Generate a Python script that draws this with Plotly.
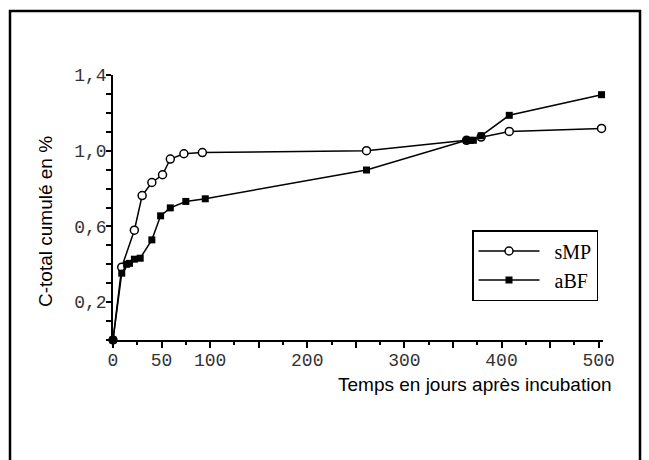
import plotly.graph_objects as go

# Data
smp_days = [0, 9, 22, 30, 40, 51, 59, 73, 92, 261, 364, 379, 408, 503]
smp_vals = [0, 0.385, 0.58, 0.763, 0.832, 0.873, 0.956, 0.984, 0.99, 1.0, 1.055, 1.072, 1.102, 1.118]

abf_days = [0, 9, 14, 17, 22, 28, 40, 49, 59, 75, 95, 261, 364, 368, 371, 379, 408, 503]
abf_vals = [0, 0.353, 0.40, 0.405, 0.427, 0.432, 0.529, 0.656, 0.698, 0.732, 0.746, 0.898,
            1.055, 1.055, 1.055, 1.079, 1.187, 1.296]

x_tickvals = [0, 50, 100, 150, 200, 250, 300, 350, 400, 450, 500]
x_ticktext = ["0", "50", "100", "", "200", "", "300", "", "400", "", "500"]
y_tickvals = [0, 0.1, 0.2, 0.3, 0.4, 0.5, 0.6, 0.7, 0.8, 0.9, 1.0, 1.1, 1.2, 1.3, 1.4]
y_ticktext = ["", "", "0,2", "", "", "", "0,6", "", "", "", "1,0", "", "", "", "1,4"]

fig = go.Figure()
fig.add_trace(go.Scatter(
    x=smp_days, y=smp_vals, name="\u2002sMP", mode="lines+markers",
    line=dict(color="black", width=1.5),
    marker=dict(symbol="circle", size=8, color="white", line=dict(color="black", width=1.5)),
    cliponaxis=False,
))
fig.add_trace(go.Scatter(
    x=abf_days, y=abf_vals, name="\u2002aBF", mode="lines+markers",
    line=dict(color="black", width=1.5),
    marker=dict(symbol="square", size=7, color="black", line=dict(color="black", width=0)),
    cliponaxis=False,
))

W, H = 649, 460
L, R, T, B = 113, 46, 75, 120
pw, ph = W - L - R, H - T - B

def px(xp):
    return (xp - L) / pw

def py(yp):
    return (H - B - yp) / ph

fig.update_layout(
    width=W, height=H,
    margin=dict(l=L, r=R, t=T, b=B, pad=0),
    paper_bgcolor="white", plot_bgcolor="white",
    showlegend=True,
    legend=dict(
        x=px(472), y=py(230), xanchor="left", yanchor="top",
        bordercolor="black", borderwidth=1.5, bgcolor="white",
        font=dict(family="Liberation Serif", size=20, color="black"),
        itemwidth=61, tracegroupgap=0,
    ),
    xaxis=dict(
        range=[0, 504.5], showgrid=False, zeroline=False,
        showline=True, linecolor="black", linewidth=1.5,
        tickmode="array", tickvals=x_tickvals, ticktext=x_ticktext,
        ticks="outside", ticklen=6, tickwidth=1.5, tickcolor="black",
        ticklabelstandoff=-3,
        tickfont=dict(family="Liberation Mono", size=18, color="#333"),
        minor=dict(dtick=25, tick0=0, ticks="outside", ticklen=3, tickwidth=1.5, tickcolor="black"),
    ),
    yaxis=dict(
        range=[0, 1.4], showgrid=False, zeroline=False,
        showline=True, linecolor="black", linewidth=1.5,
        tickmode="array", tickvals=y_tickvals, ticktext=y_ticktext,
        ticks="outside", ticklen=5, tickwidth=1.5, tickcolor="black",
        ticklabelstandoff=-4,
        tickfont=dict(family="Liberation Mono", size=18, color="#333"),
    ),
    annotations=[
        dict(text="C-total cumulé en %", xref="paper", yref="paper",
             x=px(45), y=py(222), xanchor="center", yanchor="middle",
             textangle=-90, showarrow=False,
             font=dict(family="Liberation Sans", size=19, color="black")),
        dict(text="Temps en jours après incubation", xref="paper", yref="paper",
             x=px(614), y=py(384), xanchor="right", yanchor="middle",
             showarrow=False,
             font=dict(family="Liberation Sans", size=19, color="black")),
    ],
    shapes=[
        dict(type="rect", xref="paper", yref="paper",
             x0=px(10), x1=px(640), y0=py(480), y1=py(11),
             line=dict(color="black", width=2.5), fillcolor="rgba(0,0,0,0)", layer="below"),
    ],
)

fig.write_html(
    "out.html",
    config={"displayModeBar": False},
    post_script="document.body.style.margin='0';document.body.style.overflow='hidden';",
)
